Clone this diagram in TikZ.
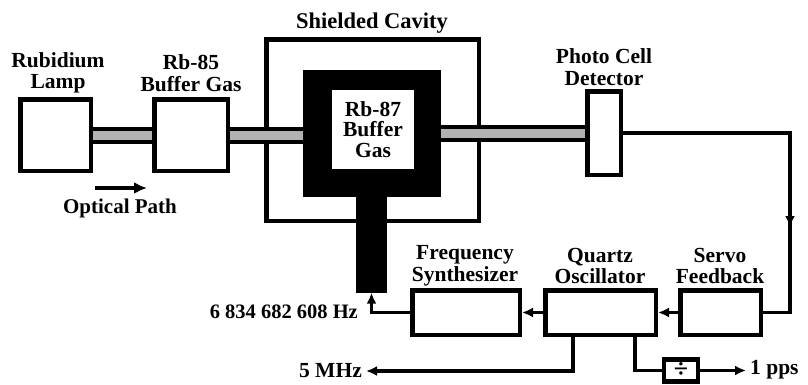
\documentclass[tikz,border=0pt]{standalone}
\usepackage{fontspec}
\setmainfont{Liberation Serif}
\usetikzlibrary{arrows.meta,calc}
\begin{document}
\begin{tikzpicture}[x=1pt,y=-1pt,
  every node/.style={font=\fontsize{21.5}{21.5}\selectfont\bfseries},
  box/.style={draw=black, line width=4.5pt, fill=white, inner sep=0pt},
  lbl/.style={align=center, inner sep=0pt},
  conn/.style={line width=3.3pt, draw=black},
  tip/.style={-{Latex[length=11pt,width=10pt]}},
  beam/.style={draw=black, line width=4pt, double=gray!60, double distance=9pt}
]
\useasboundingbox (0,0) rectangle (808,384);
% boxes
\node[box, minimum width=70.5, minimum height=71.5] (lamp) at (55.5,135) {};
\node[box, minimum width=73.5, minimum height=71.5] (rb85) at (191,135) {};
\node[box, minimum width=212.5, minimum height=181.5] (cavity) at (372.5,130) {};
\node[fill=black, inner sep=0pt, minimum width=138, minimum height=127] (rb87) at (372,133.5) {};
\node[fill=black, inner sep=0pt, minimum width=31, minimum height=96] (stem) at (371.5,244.5) {};
\node[fill=white, inner sep=0pt, minimum width=82, minimum height=79, align=center,
      font=\fontsize{21.5}{20.5}\selectfont\bfseries] (rb87in) at (373,129.5) {Rb-87\\Buffer\\Gas};
\node[box, minimum width=33.5, minimum height=83.5] (photo) at (604,133) {};
\node[box, minimum width=107.5, minimum height=44.5] (synth) at (466,312.5) {};
\node[box, minimum width=110.5, minimum height=44.5] (quartz) at (600.5,312.5) {};
\node[box, minimum width=80.5, minimum height=44.5] (servo) at (720.5,312.5) {};
\node[box, minimum width=34, minimum height=22] (div) at (681,370.5) {};
\node[inner sep=0pt, font=\fontsize{26}{26}\selectfont\bfseries] (divsym) at (681,370) {÷};
% labels
\node[lbl] (lampL) at (58,73) {Rubidium\\Lamp};
\node[lbl] (rb85L) at (191,73) {Rb-85\\Buffer Gas};
\node[lbl, font=\fontsize{22.5}{22.5}\selectfont\bfseries] (cavL) at (372,23) {Shielded Cavity};
\node[lbl] (photoL) at (604,67) {Photo Cell\\Detector};
\node[lbl] (synthL) at (465,266) {Frequency\\Synthesizer};
\node[lbl] (quartzL) at (600,266) {Quartz\\Oscillator};
\node[lbl] (servoL) at (720,266) {Servo\\Feedback};
\node[lbl, font=\fontsize{21}{21}\selectfont\bfseries] (optL) at (120,208) {Optical Path};
\node[lbl, anchor=east, font=\fontsize{20.5}{20.5}\selectfont\bfseries] (hzL) at (358,312) {6 834 682 608 Hz};
\node[lbl, anchor=east, inner xsep=4pt] (mhzL) at (366,371) {5 MHz};
\node[lbl, anchor=west, inner xsep=4pt] (ppsL) at (746,370) {1 pps};
% optical path arrow
\coordinate (opA) at (95,188);
\coordinate (opB) at (147,188);
\draw[line width=4pt, -{Latex[length=13pt,width=12pt]}] (opA) -- (opB);
% beams
\draw[beam] (lamp.east) -- (rb85.west |- lamp.east);
\draw[beam] (rb85.east) -- (rb87.west |- rb85.east);
\draw[beam] (rb87.east) -- (photo.west |- rb87.east);
% feedback
\coordinate (fb) at (790,133);
\coordinate (fbmid) at (790,227);
\draw[conn] (photo.east) -- (fb) -- (fb |- servo.east) -- (servo.east);
\draw[conn, tip] (fb) -- (fbmid);
\draw[conn, tip] (servo.west) -- (quartz.east);
\draw[conn, tip] (quartz.west) -- (synth.west -| synth.east);
\draw[conn, tip] (synth.west) -| (stem.south);
% outputs
\coordinate (q5) at (573,336);
\coordinate (q1) at (635,336);
\draw[conn, tip] (q5) |- (mhzL.east);
\draw[conn] (q1) |- (div.west);
\draw[conn, tip] (div.east) -- (ppsL.west |- div.east);
\end{tikzpicture}
\end{document}
